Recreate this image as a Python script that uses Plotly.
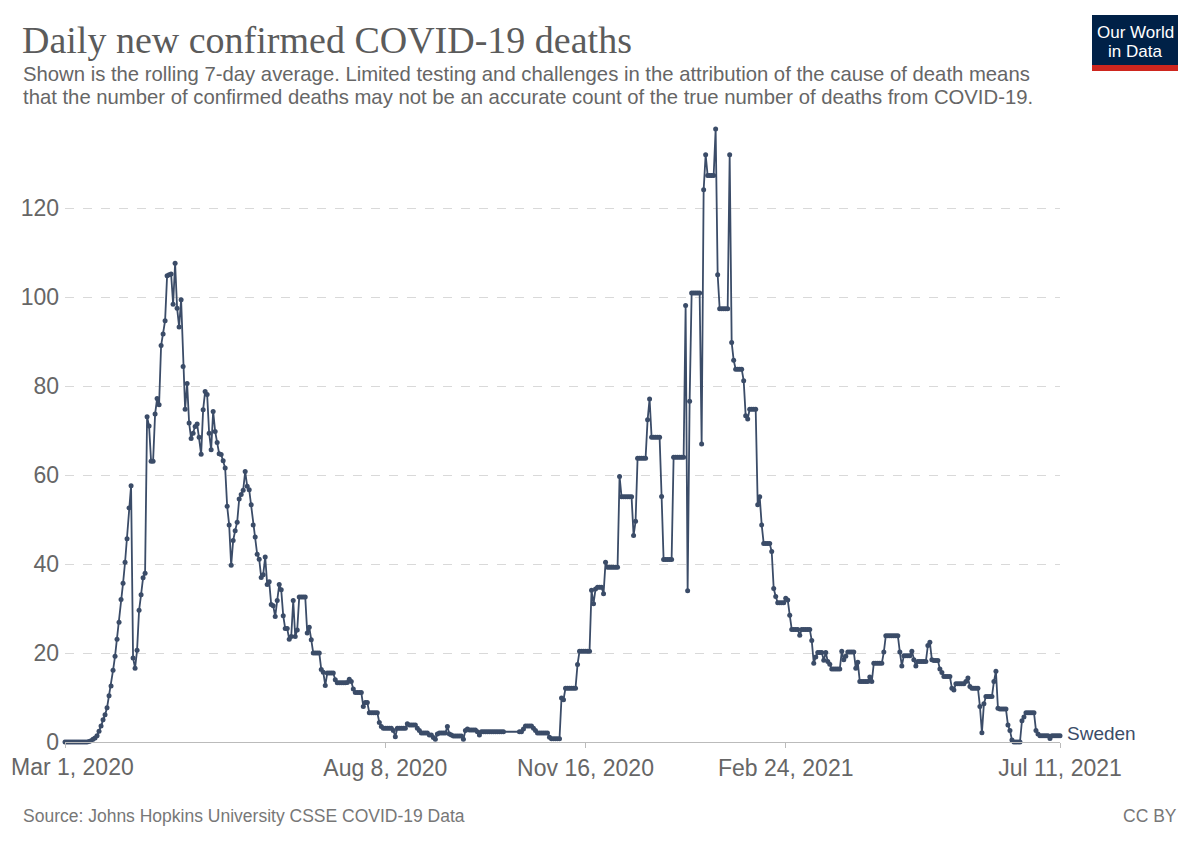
import pandas as pd
import plotly.graph_objects as go

W, H = 1200, 847
PAGE = 8  # page margin the browser adds around the figure
L, R, T, B = 57, 148, 120, 113

title = "Daily new confirmed COVID-19 deaths"
subtitle_lines = [
    "Shown is the rolling 7-day average. Limited testing and challenges in the attribution of the cause of death means",
    "that the number of confirmed deaths may not be an accurate count of the true number of deaths from COVID-19.",
]
source = "Source: Johns Hopkins University CSSE COVID-19 Data"
country = "Sweden"

start_date = "2020-03-01"
end_date = "2021-07-11"
tick_dates = ["2020-03-01", "2020-08-08", "2020-11-16", "2021-02-24", "2021-07-11"]
tick_labels = ["Mar 1, 2020", "Aug 8, 2020", "Nov 16, 2020", "Feb 24, 2021", "Jul 11, 2021"]
y_ticks = [0, 20, 40, 60, 80, 100, 120]

# rolling 7-day average, one value per day (None = no report, line is joined)
deaths = [
    0, 0, 0, 0, 0, 0, 0, 0, 0, 0, 0, 0,
    0.1, 0.3, 0.6, 0.9, 1.4, 2.4, 3.6, 5.0, 6.1, 7.7, 10.4, 12.6, 16.1, 19.3,
    23.1, 26.9, 32.0, 35.7, 40.4, 45.7, 52.6, 57.6,
    18.9, 16.6, 20.6, 29.6, 33.1, 36.9, 37.9,
    73.1, 71.0, 63.1, 63.1, 73.7, 77.2, 75.8, 89.1, 91.7, 94.7, 104.8, 105.0,
    105.2, 98.4, 107.6,
    97.5, 93.3, 99.4, 84.4, 74.8, 80.6, 71.7, 68.2, 69.4, 70.9, 71.5, 68.5,
    64.7, 74.7, 78.8, 78.1, 69.4, 65.7, 74.3, 69.8, 67.3, 64.8, 64.6, 63.2,
    61.6, 53.0, 48.8, 39.7, 45.3, 47.5, 49.4, 54.6, 55.6, 56.6, 60.8, 57.5,
    56.7, 53.3, 48.8, 46.1, 42.2, 41.1, 37.0, 37.6, 41.6, 35.4, 36.0, 30.9,
    30.6, 28.2, 31.8, 35.4, 34.2, 28.4, 25.5, 25.5, 23.1, 23.7, 31.8, 23.7,
    25.2, 32.6, 32.6, 32.6, 32.6, 24.5, 25.8, 23.0, 20.0, 20.0, 20.0, 20.0,
    16.3, 15.7, 12.7, 15.5, 15.5, 15.5, 15.5, 14.0, 13.3, 13.3, 13.3, 13.3, 13.3,
    13.4, 14.1, 13.6, 11.9, 11.1, 11.1, 11.1, 11.1, 8.0, 8.9, 8.9,
    6.6, 6.6, 6.6, 6.6, 6.6, 4.4, 3.5, 3.1, 3.1, 3.1, 3.1, 3.1, 2.6, 1.2,
    3.1, 3.1, 3.1, 3.1, 3.1, 4.1, 3.8, 3.8, 3.8, 3.8, 3.1, 2.6,
    2.0, 2.0, 2.0, 2.0, 1.6, 1.6, 1.0, 0.6, 1.8, 2.0, 2.0, 2.0, 2.0, 3.5, 1.8,
    1.6, 1.35, 1.35, 1.35, 1.35, 1.35, 0.6, 2.6, 2.9, 2.7, 2.7, 2.7, 2.7, 2.3, 1.6,
    2.3, 2.3, 2.3, 2.3, 2.3, 2.3, 2.3, 2.3, 2.3, 2.3, 2.3, 2.3,
    None, None, None, None, None, None, None,
    2.3, 2.3, 2.9, 3.6, 3.6, 3.6, 3.6, 3.1, 2.6,
    2.0, 2.0, 2.0, 2.0, 2.0, 2.0, 1.05, 0.75, 0.75, 0.75, 0.75, 0.75,
    9.9, 9.5, 12.1, 12.1, 12.1, 12.1, 12.1, 12.1, 17.4,
    20.4, 20.4, 20.4, 20.4, 20.4, 20.4,
    34.1, 31.1, 34.4, 34.8, 34.8, 34.8, 33.3, 40.4,
    39.3, 39.3, 39.3, 39.3, 39.3, 39.3, 59.7,
    55.1, 55.1, 55.1, 55.1, 55.1, 55.1, 46.4, 49.6,
    63.8, 63.8, 63.8, 63.8, 63.8, 72.4, 77.1,
    68.5, 68.5, 68.5, 68.5, 68.5, 55.2, 41.0, 41.0, 41.0, 41.0, 41.0,
    64.0, 64.0, 64.0, 64.0, 64.0, 64.0, 98.1, 34.0, 76.6,
    100.9, 100.9, 100.9, 100.9, 100.9, 67.0, 124.1, 132.0,
    127.3, 127.3, 127.3, 127.3, 137.8, 105.0,
    97.4, 97.4, 97.4, 97.4, 97.4, 132.0, 89.8, 85.8,
    83.8, 83.8, 83.8, 83.8, 81.2, 73.3, 72.6, 74.8, 74.8, 74.8, 74.8,
    53.3, 55.1, 48.8, 44.6, 44.6, 44.6, 44.6, 42.8, 34.5, 32.7,
    31.3, 31.3, 31.3, 31.3, 32.3, 31.9, 28.5, 25.3, 25.3, 25.3, 25.3, 24.0,
    25.3, 25.3, 25.3, 25.3, 25.3, 22.8, 17.7, 19.1, 20.1, 20.1, 20.1, 18.4,
    20.1, 18.1, 17.5, 16.4, 16.4, 16.4, 16.4, 16.4,
    20.4, 18.5, 19.3, 20.2, 20.2, 20.2, 20.2, 16.6, 17.9,
    13.6, 13.6, 13.6, 13.6, 13.6, 14.6, 13.6, 17.7, 17.7, 17.7, 17.7, 17.7, 20.2,
    23.9, 23.9, 23.9, 23.9, 23.9, 23.9, 23.9, 20.2, 17.1,
    19.4, 19.4, 19.4, 19.4, 20.4, 18.5, 17.1, 18.1, 18.1, 18.1, 18.1, 18.1,
    21.7, 22.4, 18.5, 18.3, 18.3, 18.3, 16.4,
    15.6, 14.7, 14.7, 14.7, 14.7, 12.1, 11.7, 13.1, 13.1, 13.1, 13.1, 13.1,
    13.6, 14.4, 12.5, 12.1, 12.1, 12.1, 12.1, 8.0, 2.1, 8.6,
    10.2, 10.2, 10.2, 10.2, 13.6, 15.9, 7.6, 7.4, 7.4, 7.4, 7.4, 3.8, 2.6, 0.45,
    0, 0, 0, 0, 4.8, 5.6, 6.6, 6.6, 6.6, 6.6, 6.6, 2.6, 1.8,
    1.4, 1.4, 1.4, 1.4, 1.4, 0.8, 1.4, 1.4, 1.4, 1.4, 1.4,
]

dates = pd.date_range(start_date, end_date, freq="D")
assert len(dates) == len(deaths), (len(dates), len(deaths))

LINE = "#3b4c68"
SANS = "Liberation Sans, Arial, sans-serif"
SERIF = "Liberation Serif, Times New Roman, serif"


# screen pixel -> paper coords
def px_x(px):
    return (px - PAGE - L) / (W - L - R)


def px_y(py):
    return (H - B - (py - PAGE)) / (H - T - B)


fig = go.Figure()
fig.add_trace(go.Scatter(
    x=dates, y=deaths, mode="lines+markers", connectgaps=True, cliponaxis=False,
    line=dict(color=LINE, width=1.8), marker=dict(color=LINE, size=5),
    name=country, showlegend=False,
))

# first date label would hang off the left edge, so it is pinned to the edge
axis_labels = [""] + tick_labels[1:]

annotations = [
    dict(text=title, x=px_x(20), y=px_y(40), xanchor="left", yanchor="middle",
         font=dict(family=SERIF, size=38, color="#5b5b5b")),
    dict(text=subtitle_lines[0], x=px_x(21), y=px_y(74), xanchor="left", yanchor="middle",
         font=dict(family=SANS, size=20.3, color="#666666")),
    dict(text=subtitle_lines[1], x=px_x(21), y=px_y(97), xanchor="left", yanchor="middle",
         font=dict(family=SANS, size=20.3, color="#666666")),
    dict(text=tick_labels[0], x=px_x(9), y=px_y(767), xanchor="left", yanchor="middle",
         font=dict(family=SANS, size=23, color="#666666")),
    dict(text=source, x=px_x(21), y=px_y(816), xanchor="left", yanchor="middle",
         font=dict(family=SANS, size=17.5, color="#777777")),
    dict(text="CC BY", x=px_x(1179), y=px_y(816), xanchor="right", yanchor="middle",
         font=dict(family=SANS, size=17.5, color="#777777")),
    dict(text="Our World", x=px_x(1135), y=px_y(33), xanchor="center", yanchor="middle",
         font=dict(family=SANS, size=17, color="white")),
    dict(text="in Data", x=px_x(1135), y=px_y(52), xanchor="center", yanchor="middle",
         font=dict(family=SANS, size=17, color="white")),
    dict(text=country, x=dates[-1], y=deaths[-1], xref="x", yref="y",
         xanchor="left", yanchor="middle", xshift=5, yshift=2,
         font=dict(family=SANS, size=19, color="#3b4c68")),
]
for a in annotations:
    a.setdefault("xref", "paper")
    a.setdefault("yref", "paper")
    a["showarrow"] = False

shapes = [
    dict(type="rect", xref="paper", yref="paper", x0=px_x(1092), x1=px_x(1178),
         y0=px_y(71), y1=px_y(15), fillcolor="#002147", line=dict(width=0), layer="above"),
    dict(type="rect", xref="paper", yref="paper", x0=px_x(1092), x1=px_x(1178),
         y0=px_y(71), y1=px_y(65), fillcolor="#ce261e", line=dict(width=0), layer="above"),
]

fig.update_layout(
    width=W, height=H, margin=dict(l=L, r=R, t=T, b=B, autoexpand=False),
    paper_bgcolor="white", plot_bgcolor="white",
    annotations=annotations, shapes=shapes,
    font=dict(family=SANS, color="#666666"),
    xaxis=dict(
        range=[start_date, end_date], tickvals=tick_dates, ticktext=axis_labels,
        showgrid=False, zeroline=False, showline=True, linecolor="#bbbbbb", linewidth=1,
        ticks="outside", ticklen=5, tickcolor="#bbbbbb", ticklabeloverflow="allow",
        tickfont=dict(family=SANS, size=23, color="#666666"),
    ),
    yaxis=dict(
        range=[0, 138], tickvals=y_ticks, showgrid=True, gridcolor="#d9d9d9",
        griddash="dash", gridwidth=1, zeroline=False, ticks="", ticklabelstandoff=5,
        tickfont=dict(family=SANS, size=23, color="#666666"),
    ),
)

fig.write_html("out.html")
